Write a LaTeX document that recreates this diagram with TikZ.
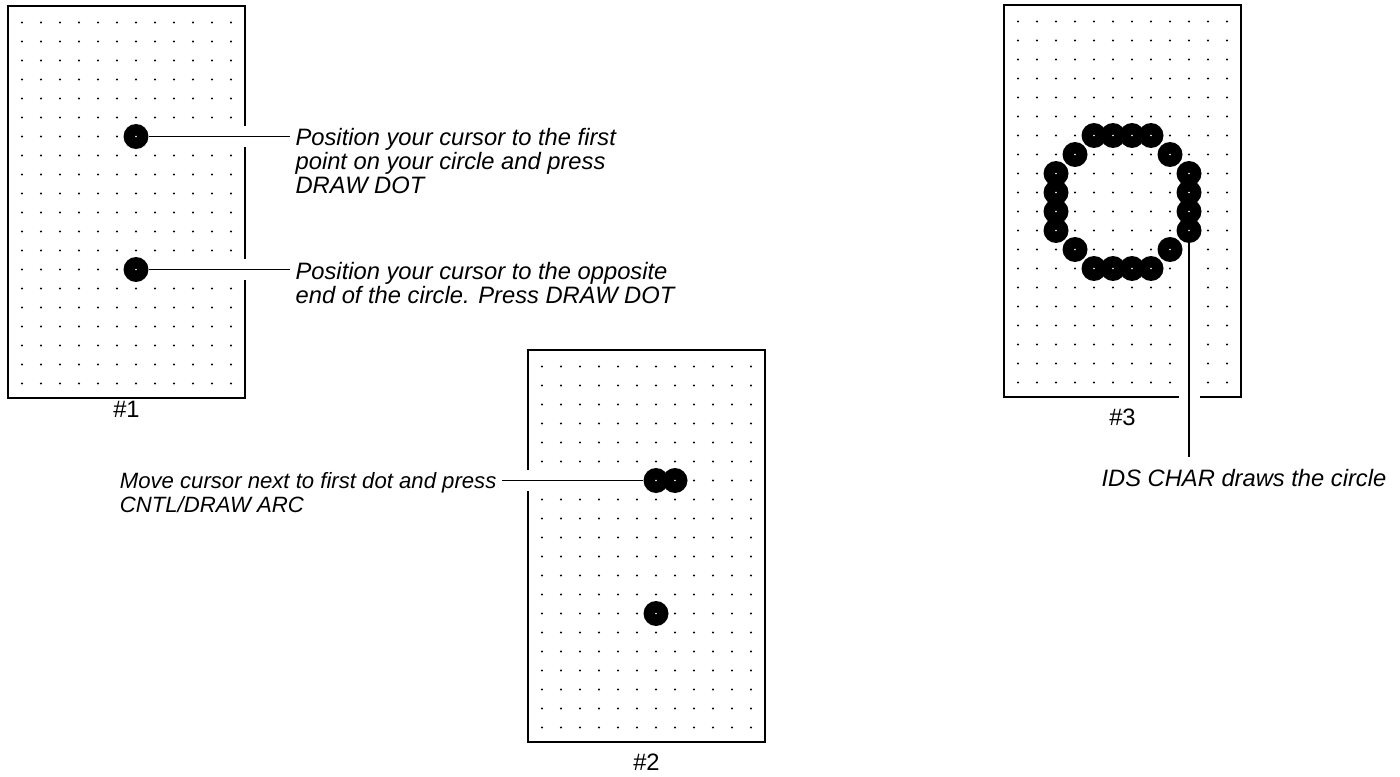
\documentclass[tikz,border=0pt]{standalone}
\usepackage{fontspec}
\setmainfont{Liberation Sans}
\usetikzlibrary{positioning}
\pgfdeclarelayer{frente}
\pgfsetlayers{main,frente}
\tikzset{
  marco/.style={draw, line width=1.1pt, minimum width=4.74cm, minimum height=7.84cm,
    inner sep=0pt, outer sep=0pt, anchor=north west},
  puntoRejilla/.style={fill=black},
  puntoGrande/.style={circle, fill=black, minimum size=0.5cm, inner sep=0pt,
    path picture={\fill[white] (path picture bounding box.center) circle (0.018cm);}},
  linea/.style={line width=1pt, preaction={draw=white, line width=0.42cm}},
  textoNota/.style={font=\itshape\fontsize{13.5pt}{13.6pt}\selectfont, align=left,
    inner xsep=3pt, inner ysep=0pt},
  etiqueta/.style={font=\fontsize{13.5pt}{15.5pt}\selectfont, inner sep=0pt},
}
\begin{document}
\begin{tikzpicture}[x=0.02cm, y=-0.02cm]
  \useasboundingbox (0,0) rectangle (1400,777);

  % marcos
  \node[marco] (m1) at (8,6) {};
  \node[marco] (m2) at (528,350) {};
  \node[marco] (m3) at (1004,5) {};

  % rejilla de puntos
  \foreach \m in {m1,m2,m3}
    \foreach \c in {0,...,11}
      \foreach \f in {0,...,19}
        \fill[puntoRejilla] ([shift={(14+19*\c,16.5+19*\f)}]\m.north west) circle (0.022cm);

  % puntos dibujados
  \begin{pgfonlayer}{frente}
    \node[puntoGrande] (p1a) at ([shift={(128,130.5)}]m1.north west) {};
    \node[puntoGrande] (p1b) at ([shift={(128,263.5)}]m1.north west) {};
    \node[puntoGrande] (p2a) at ([shift={(128,130.5)}]m2.north west) {};
    \node[puntoGrande] (p2b) at ([shift={(147,130.5)}]m2.north west) {};
    \node[puntoGrande] (p2c) at ([shift={(128,263.5)}]m2.north west) {};
    \foreach \c/\f in {4/6,5/6,6/6,7/6,3/7,8/7,2/8,9/8,2/9,9/9,2/10,9/10,2/11,9/11,
                       3/12,8/12,4/13,5/13,6/13,7/13}
      \node[puntoGrande] (c\c-\f) at ([shift={(14+19*\c,16.5+19*\f)}]m3.north west) {};
  \end{pgfonlayer}

  % textos
  \node[textoNota, anchor=north west] (tA) at (290,128)
    {Position your cursor to the first\\point on your circle and press\\DRAW DOT};
  \node[textoNota, anchor=north west] (tB) at (290,262)
    {Position your cursor to the opposite\\end of the circle. Press DRAW DOT};
  \node[textoNota, anchor=north east, font=\itshape\fontsize{12.6pt}{13.6pt}\selectfont]
    (tC) at (502,472) {Move cursor next to first dot and press\\CNTL/DRAW ARC};
  \node[textoNota, anchor=north west] (tD) at (1096,469)
    {IDS CHAR draws the circle};

  % etiquetas
  \node[etiqueta, below=0.06cm of m1] (n1) {\#1};
  \node[etiqueta, below=0.24cm of m2] (n2) {\#2};
  \node[etiqueta, below=0.24cm of m3] (n3) {\#3};

  % lineas
  \draw[linea] (p1a.east) -- (p1a -| tA.west);
  \draw[linea] (p1b.east) -- (p1b -| tB.west);
  \draw[linea] (p2a -| tC.east) -- (p2a.west);
  \draw[linea, shorten >=0.24cm] (c9-11.south) -- (c9-11 |- tD.north);
\end{tikzpicture}
\end{document}
